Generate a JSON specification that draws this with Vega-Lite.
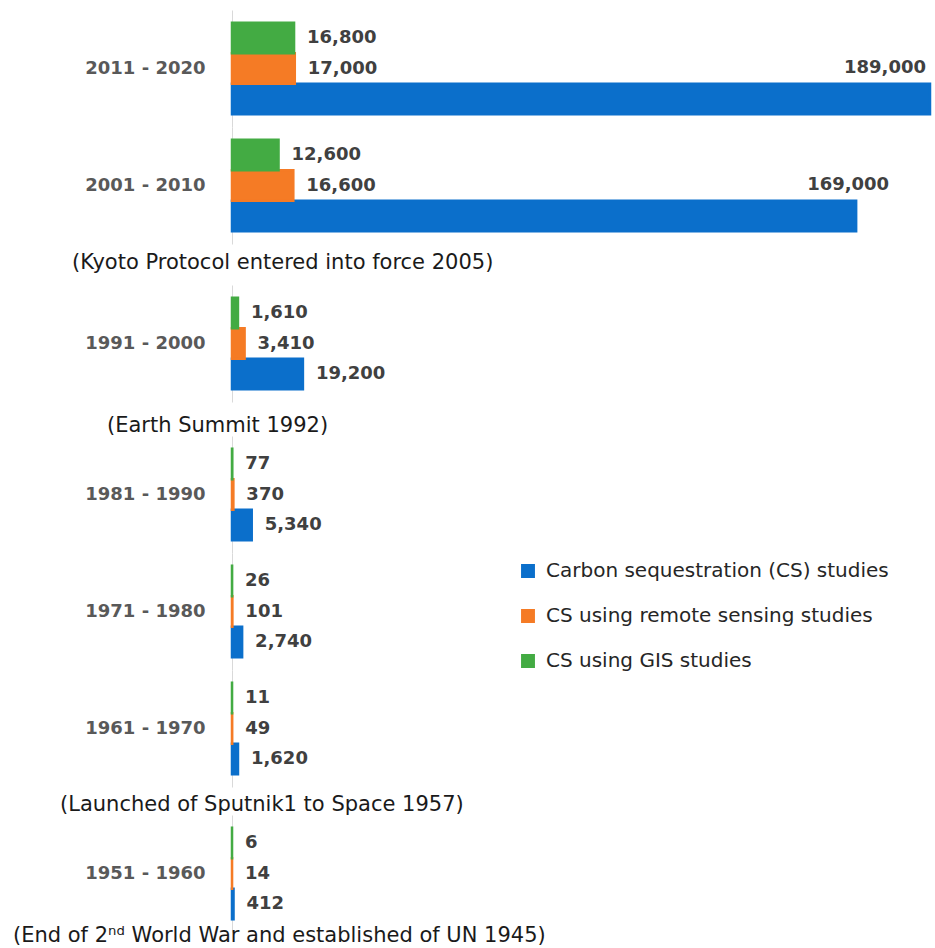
{
  "$schema": "https://vega.github.io/schema/vega-lite/v6.json",
  "padding": {"left": 13, "top": 10, "right": 5, "bottom": 0},
  "background": "white",
  "datasets": {
    "studies": [
      {"decade": "2011 - 2020", "series": "Carbon sequestration (CS) studies", "value": 189000},
      {"decade": "2011 - 2020", "series": "CS using remote sensing studies", "value": 17000},
      {"decade": "2011 - 2020", "series": "CS using GIS studies", "value": 16800},
      {"decade": "2001 - 2010", "series": "Carbon sequestration (CS) studies", "value": 169000},
      {"decade": "2001 - 2010", "series": "CS using remote sensing studies", "value": 16600},
      {"decade": "2001 - 2010", "series": "CS using GIS studies", "value": 12600},
      {"decade": "1991 - 2000", "series": "Carbon sequestration (CS) studies", "value": 19200},
      {"decade": "1991 - 2000", "series": "CS using remote sensing studies", "value": 3410},
      {"decade": "1991 - 2000", "series": "CS using GIS studies", "value": 1610},
      {"decade": "1981 - 1990", "series": "Carbon sequestration (CS) studies", "value": 5340},
      {"decade": "1981 - 1990", "series": "CS using remote sensing studies", "value": 370},
      {"decade": "1981 - 1990", "series": "CS using GIS studies", "value": 77},
      {"decade": "1971 - 1980", "series": "Carbon sequestration (CS) studies", "value": 2740},
      {"decade": "1971 - 1980", "series": "CS using remote sensing studies", "value": 101},
      {"decade": "1971 - 1980", "series": "CS using GIS studies", "value": 26},
      {"decade": "1961 - 1970", "series": "Carbon sequestration (CS) studies", "value": 1620},
      {"decade": "1961 - 1970", "series": "CS using remote sensing studies", "value": 49},
      {"decade": "1961 - 1970", "series": "CS using GIS studies", "value": 11},
      {"decade": "1951 - 1960", "series": "Carbon sequestration (CS) studies", "value": 412},
      {"decade": "1951 - 1960", "series": "CS using remote sensing studies", "value": 14},
      {"decade": "1951 - 1960", "series": "CS using GIS studies", "value": 6}
    ]
  },
  "data": {"name": "studies"},
  "spacing": 0,
  "resolve": {"scale": {"x": "shared", "color": "shared"}},
  "vconcat": [
    {
      "width": 698, "height": 117,
      "transform": [{"filter": "datum.decade === '2011 - 2020'"}],
      "encoding": {
        "y": {"field": "decade", "type": "nominal", "scale": {"paddingOuter": 0.139, "paddingInner": 0}},
        "yOffset": {"field": "series", "type": "nominal", "sort": ["CS using GIS studies", "CS using remote sensing studies", "Carbon sequestration (CS) studies"], "scale": {"paddingInner": 0, "paddingOuter": 0}},
        "x": {"field": "value", "type": "quantitative", "scale": {"domain": [0, 189000], "nice": false, "zero": true}, "axis": null}
      },
      "layer": [
        {"mark": "bar",
         "encoding": {
           "color": {"field": "series", "type": "nominal", "scale": {"domain": ["Carbon sequestration (CS) studies", "CS using remote sensing studies", "CS using GIS studies"], "range": ["#0B6FCB", "#F57B25", "#43AB43"]},
                     "legend": {"title": null, "orient": "none", "legendX": 286, "legendY": 551, "symbolType": "square", "symbolSize": 130, "symbolStrokeWidth": 0, "labelFont": "DejaVu Sans", "labelFontSize": 20, "labelColor": "#262626", "labelOffset": 8, "rowPadding": 23, "labelLimit": 500}},
           "stroke": {"field": "series", "type": "nominal", "scale": {"domain": ["Carbon sequestration (CS) studies", "CS using remote sensing studies", "CS using GIS studies"], "range": ["#0B6FCB", "#F57B25", "#43AB43"]}, "legend": null}
         }},
        {"transform": [{"filter": "datum.value < 100000"}],
         "mark": {"type": "text", "align": "left", "dx": 13},
         "encoding": {"text": {"field": "value", "type": "quantitative", "format": ",d"}}},
        {"transform": [{"filter": "datum.value >= 100000"}],
         "mark": {"type": "text", "align": "right", "dx": -4, "dy": -31},
         "encoding": {"text": {"field": "value", "type": "quantitative", "format": ",d"}}}
      ]
    },
    {
      "width": 698, "height": 117,
      "title": {"text": "(Kyoto Protocol entered into force 2005)", "subtitle": " ", "subtitleFontSize": 4, "subtitlePadding": 8, "orient": "bottom", "anchor": "start", "frame": "group", "dx": -160, "offset": 8},
      "transform": [{"filter": "datum.decade === '2001 - 2010'"}],
      "encoding": {
        "y": {"field": "decade", "type": "nominal", "scale": {"paddingOuter": 0.139, "paddingInner": 0}},
        "yOffset": {"field": "series", "type": "nominal", "sort": ["CS using GIS studies", "CS using remote sensing studies", "Carbon sequestration (CS) studies"], "scale": {"paddingInner": 0, "paddingOuter": 0}},
        "x": {"field": "value", "type": "quantitative", "scale": {"domain": [0, 189000], "nice": false, "zero": true}, "axis": null}
      },
      "layer": [
        {"mark": "bar",
         "encoding": {
           "color": {"field": "series", "type": "nominal", "scale": {"domain": ["Carbon sequestration (CS) studies", "CS using remote sensing studies", "CS using GIS studies"], "range": ["#0B6FCB", "#F57B25", "#43AB43"]},
                     "legend": {"title": null, "orient": "none", "legendX": 286, "legendY": 551, "symbolType": "square", "symbolSize": 130, "symbolStrokeWidth": 0, "labelFont": "DejaVu Sans", "labelFontSize": 20, "labelColor": "#262626", "labelOffset": 8, "rowPadding": 23, "labelLimit": 500}},
           "stroke": {"field": "series", "type": "nominal", "scale": {"domain": ["Carbon sequestration (CS) studies", "CS using remote sensing studies", "CS using GIS studies"], "range": ["#0B6FCB", "#F57B25", "#43AB43"]}, "legend": null}
         }},
        {"transform": [{"filter": "datum.value < 100000"}],
         "mark": {"type": "text", "align": "left", "dx": 13},
         "encoding": {"text": {"field": "value", "type": "quantitative", "format": ",d"}}},
        {"transform": [{"filter": "datum.value >= 100000"}],
         "mark": {"type": "text", "align": "right", "dx": 33, "dy": -31},
         "encoding": {"text": {"field": "value", "type": "quantitative", "format": ",d"}}}
      ]
    },
    {
      "width": 698, "height": 117,
      "title": {"text": "(Earth Summit 1992)", "orient": "bottom", "anchor": "start", "frame": "group", "dx": -125, "offset": 13},
      "transform": [{"filter": "datum.decade === '1991 - 2000'"}],
      "encoding": {
        "y": {"field": "decade", "type": "nominal", "scale": {"paddingOuter": 0.139, "paddingInner": 0}},
        "yOffset": {"field": "series", "type": "nominal", "sort": ["CS using GIS studies", "CS using remote sensing studies", "Carbon sequestration (CS) studies"], "scale": {"paddingInner": 0, "paddingOuter": 0}},
        "x": {"field": "value", "type": "quantitative", "scale": {"domain": [0, 189000], "nice": false, "zero": true}, "axis": null}
      },
      "layer": [
        {"mark": "bar",
         "encoding": {
           "color": {"field": "series", "type": "nominal", "scale": {"domain": ["Carbon sequestration (CS) studies", "CS using remote sensing studies", "CS using GIS studies"], "range": ["#0B6FCB", "#F57B25", "#43AB43"]},
                     "legend": {"title": null, "orient": "none", "legendX": 286, "legendY": 551, "symbolType": "square", "symbolSize": 130, "symbolStrokeWidth": 0, "labelFont": "DejaVu Sans", "labelFontSize": 20, "labelColor": "#262626", "labelOffset": 8, "rowPadding": 23, "labelLimit": 500}},
           "stroke": {"field": "series", "type": "nominal", "scale": {"domain": ["Carbon sequestration (CS) studies", "CS using remote sensing studies", "CS using GIS studies"], "range": ["#0B6FCB", "#F57B25", "#43AB43"]}, "legend": null}
         }},
        {"mark": {"type": "text", "align": "left", "dx": 13},
         "encoding": {"text": {"field": "value", "type": "quantitative", "format": ",d"}}}
      ]
    },
    {
      "width": 698, "height": 117,
      "transform": [{"filter": "datum.decade === '1981 - 1990'"}],
      "encoding": {
        "y": {"field": "decade", "type": "nominal", "scale": {"paddingOuter": 0.139, "paddingInner": 0}},
        "yOffset": {"field": "series", "type": "nominal", "sort": ["CS using GIS studies", "CS using remote sensing studies", "Carbon sequestration (CS) studies"], "scale": {"paddingInner": 0, "paddingOuter": 0}},
        "x": {"field": "value", "type": "quantitative", "scale": {"domain": [0, 189000], "nice": false, "zero": true}, "axis": null}
      },
      "layer": [
        {"mark": "bar",
         "encoding": {
           "color": {"field": "series", "type": "nominal", "scale": {"domain": ["Carbon sequestration (CS) studies", "CS using remote sensing studies", "CS using GIS studies"], "range": ["#0B6FCB", "#F57B25", "#43AB43"]},
                     "legend": {"title": null, "orient": "none", "legendX": 286, "legendY": 551, "symbolType": "square", "symbolSize": 130, "symbolStrokeWidth": 0, "labelFont": "DejaVu Sans", "labelFontSize": 20, "labelColor": "#262626", "labelOffset": 8, "rowPadding": 23, "labelLimit": 500}},
           "stroke": {"field": "series", "type": "nominal", "scale": {"domain": ["Carbon sequestration (CS) studies", "CS using remote sensing studies", "CS using GIS studies"], "range": ["#0B6FCB", "#F57B25", "#43AB43"]}, "legend": null}
         }},
        {"mark": {"type": "text", "align": "left", "dx": 13},
         "encoding": {"text": {"field": "value", "type": "quantitative", "format": ",d"}}}
      ]
    },
    {
      "width": 698, "height": 117,
      "transform": [{"filter": "datum.decade === '1971 - 1980'"}],
      "encoding": {
        "y": {"field": "decade", "type": "nominal", "scale": {"paddingOuter": 0.139, "paddingInner": 0}},
        "yOffset": {"field": "series", "type": "nominal", "sort": ["CS using GIS studies", "CS using remote sensing studies", "Carbon sequestration (CS) studies"], "scale": {"paddingInner": 0, "paddingOuter": 0}},
        "x": {"field": "value", "type": "quantitative", "scale": {"domain": [0, 189000], "nice": false, "zero": true}, "axis": null}
      },
      "layer": [
        {"mark": "bar",
         "encoding": {
           "color": {"field": "series", "type": "nominal", "scale": {"domain": ["Carbon sequestration (CS) studies", "CS using remote sensing studies", "CS using GIS studies"], "range": ["#0B6FCB", "#F57B25", "#43AB43"]},
                     "legend": {"title": null, "orient": "none", "legendX": 286, "legendY": 551, "symbolType": "square", "symbolSize": 130, "symbolStrokeWidth": 0, "labelFont": "DejaVu Sans", "labelFontSize": 20, "labelColor": "#262626", "labelOffset": 8, "rowPadding": 23, "labelLimit": 500}},
           "stroke": {"field": "series", "type": "nominal", "scale": {"domain": ["Carbon sequestration (CS) studies", "CS using remote sensing studies", "CS using GIS studies"], "range": ["#0B6FCB", "#F57B25", "#43AB43"]}, "legend": null}
         }},
        {"mark": {"type": "text", "align": "left", "dx": 13},
         "encoding": {"text": {"field": "value", "type": "quantitative", "format": ",d"}}}
      ]
    },
    {
      "width": 698, "height": 117,
      "title": {"text": "(Launched of Sputnik1 to Space 1957)", "orient": "bottom", "anchor": "start", "frame": "group", "dx": -172, "offset": 7},
      "transform": [{"filter": "datum.decade === '1961 - 1970'"}],
      "encoding": {
        "y": {"field": "decade", "type": "nominal", "scale": {"paddingOuter": 0.139, "paddingInner": 0}},
        "yOffset": {"field": "series", "type": "nominal", "sort": ["CS using GIS studies", "CS using remote sensing studies", "Carbon sequestration (CS) studies"], "scale": {"paddingInner": 0, "paddingOuter": 0}},
        "x": {"field": "value", "type": "quantitative", "scale": {"domain": [0, 189000], "nice": false, "zero": true}, "axis": null}
      },
      "layer": [
        {"mark": "bar",
         "encoding": {
           "color": {"field": "series", "type": "nominal", "scale": {"domain": ["Carbon sequestration (CS) studies", "CS using remote sensing studies", "CS using GIS studies"], "range": ["#0B6FCB", "#F57B25", "#43AB43"]},
                     "legend": {"title": null, "orient": "none", "legendX": 286, "legendY": 551, "symbolType": "square", "symbolSize": 130, "symbolStrokeWidth": 0, "labelFont": "DejaVu Sans", "labelFontSize": 20, "labelColor": "#262626", "labelOffset": 8, "rowPadding": 23, "labelLimit": 500}},
           "stroke": {"field": "series", "type": "nominal", "scale": {"domain": ["Carbon sequestration (CS) studies", "CS using remote sensing studies", "CS using GIS studies"], "range": ["#0B6FCB", "#F57B25", "#43AB43"]}, "legend": null}
         }},
        {"mark": {"type": "text", "align": "left", "dx": 13},
         "encoding": {"text": {"field": "value", "type": "quantitative", "format": ",d"}}}
      ]
    },
    {
      "width": 698, "height": 117,
      "title": {"text": "(End of 2ⁿᵈ World War and established of UN 1945)", "orient": "bottom", "anchor": "start", "frame": "group", "dx": -219, "offset": -7},
      "transform": [{"filter": "datum.decade === '1951 - 1960'"}],
      "encoding": {
        "y": {"field": "decade", "type": "nominal", "scale": {"paddingOuter": 0.139, "paddingInner": 0}},
        "yOffset": {"field": "series", "type": "nominal", "sort": ["CS using GIS studies", "CS using remote sensing studies", "Carbon sequestration (CS) studies"], "scale": {"paddingInner": 0, "paddingOuter": 0}},
        "x": {"field": "value", "type": "quantitative", "scale": {"domain": [0, 189000], "nice": false, "zero": true}, "axis": null}
      },
      "layer": [
        {"mark": "bar",
         "encoding": {
           "color": {"field": "series", "type": "nominal", "scale": {"domain": ["Carbon sequestration (CS) studies", "CS using remote sensing studies", "CS using GIS studies"], "range": ["#0B6FCB", "#F57B25", "#43AB43"]},
                     "legend": {"title": null, "orient": "none", "legendX": 286, "legendY": 551, "symbolType": "square", "symbolSize": 130, "symbolStrokeWidth": 0, "labelFont": "DejaVu Sans", "labelFontSize": 20, "labelColor": "#262626", "labelOffset": 8, "rowPadding": 23, "labelLimit": 500}},
           "stroke": {"field": "series", "type": "nominal", "scale": {"domain": ["Carbon sequestration (CS) studies", "CS using remote sensing studies", "CS using GIS studies"], "range": ["#0B6FCB", "#F57B25", "#43AB43"]}, "legend": null}
         }},
        {"mark": {"type": "text", "align": "left", "dx": 13},
         "encoding": {"text": {"field": "value", "type": "quantitative", "format": ",d"}}}
      ]
    }
  ],
  "config": {
    "view": {"stroke": null},
    "bar": {"strokeWidth": 2.5},
    "text": {"baseline": "middle", "font": "DejaVu Sans", "fontWeight": "bold", "fontSize": 18, "color": "#404040"},
    "title": {"font": "DejaVu Sans", "fontSize": 21, "fontWeight": "normal", "color": "#1a1a1a"},
    "axisY": {"title": null, "ticks": false, "domainColor": "#d9d9d9", "labelFont": "DejaVu Sans", "labelFontWeight": "bold", "labelFontSize": 18, "labelColor": "#595959", "labelPadding": 27}
  }
}
